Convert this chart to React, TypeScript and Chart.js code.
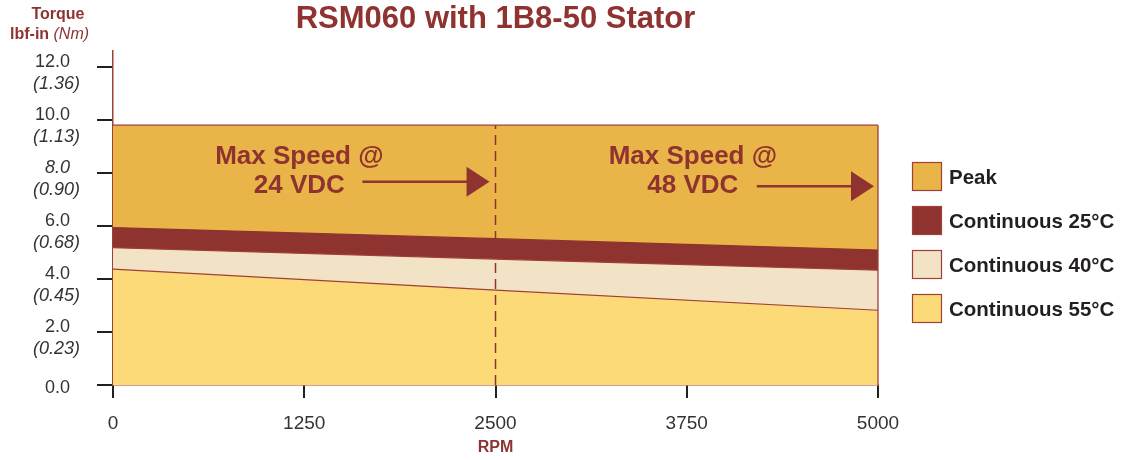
import React, { useEffect, useRef } from 'react';
import { Chart, registerables } from 'chart.js';

Chart.register(...registerables);

// ---- data ----
const rpm = [0, 2500, 5000];
const peak = [9.8, 9.8, 9.8];
const cont25 = [5.94, 5.52, 5.09];
const cont40 = [5.18, 4.75, 4.33];
const cont55 = [4.37, 3.58, 2.82];
const seriesLabels = ['Peak', 'Continuous 25°C', 'Continuous 40°C', 'Continuous 55°C'];
const xTicks = [0, 1250, 2500, 3750, 5000];
const xTickLabels = ['0', '1250', '2500', '3750', '5000'];
const yTicks = [0, 2, 4, 6, 8, 10, 12];
const yTickLabels = ['0.0', '2.0', '4.0', '6.0', '8.0', '10.0', '12.0'];
const yTickNm = ['', '(0.23)', '(0.45)', '(0.68)', '(0.90)', '(1.13)', '(1.36)'];
const dividerRpm = 2500;
const noteLines24 = ['Max Speed @', '24 VDC'];
const noteLines48 = ['Max Speed @', '48 VDC'];

const RED = '#8E3330';
const EDGE = '#A03F38';
const colors = ['#E9B548', '#8E3330', '#F2E3C6', '#FDDA78'];
const FONT = '"Liberation Sans", Arial, Helvetica, sans-serif';

const pts = (vals: number[]) => rpm.map((r, i) => ({ x: r, y: vals[i] }));

// annotations in data units
const notes = [
  { lines: noteLines24, x: 1218, y1: 8.34, y2: 7.23, from: 1630, to: 2461, ay: 7.67 },
  { lines: noteLines48, x: 3790, y1: 8.34, y2: 7.23, from: 4208, to: 4974, ay: 7.5 },
];

const decor = {
  id: 'decor',
  afterDatasetsDraw(chart: any) {
    const { ctx, scales } = chart;
    const x = scales.x, y = scales.y;
    ctx.save();
    // right edge of the region
    ctx.strokeStyle = EDGE;
    ctx.lineWidth = 1.3;
    const xr = x.getPixelForValue(rpm[rpm.length - 1]);
    ctx.beginPath();
    ctx.moveTo(xr, y.getPixelForValue(peak[peak.length - 1]));
    ctx.lineTo(xr, y.getPixelForValue(0));
    ctx.stroke();

    // annotations
    ctx.fillStyle = RED;
    ctx.strokeStyle = RED;
    ctx.font = `bold 26px ${FONT}`;
    ctx.textAlign = 'center';
    ctx.textBaseline = 'alphabetic';
    for (const n of notes) {
      const cx = x.getPixelForValue(n.x);
      ctx.fillText(n.lines[0], cx, y.getPixelForValue(n.y1));
      ctx.fillText(n.lines[1], cx, y.getPixelForValue(n.y2));
      const ay = y.getPixelForValue(n.ay);
      const x0 = x.getPixelForValue(n.from);
      const x1 = x.getPixelForValue(n.to);
      ctx.lineWidth = 2.6;
      ctx.beginPath();
      ctx.moveTo(x0, ay);
      ctx.lineTo(x1 - 18, ay);
      ctx.stroke();
      ctx.beginPath();
      ctx.moveTo(x1, ay);
      ctx.lineTo(x1 - 23, ay - 15);
      ctx.lineTo(x1 - 23, ay + 15);
      ctx.closePath();
      ctx.fill();
    }
    ctx.restore();
  },
  afterDraw(chart: any) {
    const { ctx, chartArea, scales } = chart;
    const x = scales.x, y = scales.y;
    ctx.save();
    // title
    ctx.fillStyle = RED;
    ctx.textAlign = 'center';
    ctx.textBaseline = 'alphabetic';
    ctx.font = `bold 31px ${FONT}`;
    ctx.fillText('RSM060 with 1B8-50 Stator', (chartArea.left + chartArea.right) / 2, 28);

    // y axis header
    ctx.font = `bold 16px ${FONT}`;
    ctx.fillText('Torque', 58, 18.5);
    ctx.textAlign = 'left';
    ctx.fillText('lbf-in', 10, 39);
    const w = ctx.measureText('lbf-in ').width;
    ctx.font = `italic 16px ${FONT}`;
    ctx.fillText('(Nm)', 10 + w, 39);

    // y tick labels
    ctx.fillStyle = '#333';
    ctx.textAlign = 'right';
    yTicks.forEach((v, i) => {
      const py = y.getPixelForValue(v);
      const italic = yTickLabels[i] === '8.0';
      ctx.font = `${italic ? 'italic ' : ''}18px ${FONT}`;
      if (yTickNm[i]) {
        ctx.fillText(yTickLabels[i], chartArea.left - 43, py);
        ctx.font = `italic 18px ${FONT}`;
        ctx.fillText(yTickNm[i], chartArea.left - 33, py + 22);
      } else {
        ctx.fillText(yTickLabels[i], chartArea.left - 43, py + 8);
      }
    });

    // x tick labels
    ctx.textAlign = 'center';
    ctx.font = `19px ${FONT}`;
    xTicks.forEach((v, i) => {
      ctx.fillText(xTickLabels[i], x.getPixelForValue(v), chartArea.bottom + 44);
    });
    ctx.fillStyle = RED;
    ctx.font = `bold 16px ${FONT}`;
    ctx.fillText('RPM', x.getPixelForValue(dividerRpm), chartArea.bottom + 67);

    // legend
    const lx = chartArea.right + 34;
    const ly0 = 176.5;
    seriesLabels.forEach((lab, i) => {
      const cy = ly0 + i * 44;
      ctx.fillStyle = colors[i];
      ctx.fillRect(lx, cy - 14.5, 30, 29);
      ctx.strokeStyle = EDGE;
      ctx.lineWidth = 1.2;
      ctx.strokeRect(lx + 0.5, cy - 14, 29, 28);
      ctx.fillStyle = '#231F20';
      ctx.textAlign = 'left';
      ctx.font = `bold 20.5px ${FONT}`;
      ctx.fillText(lab, lx + 37, cy + 7.5);
    });
    ctx.restore();
  },
};

export default function App() {
  const ref = useRef<HTMLCanvasElement | null>(null);
  useEffect(() => {
    if (!ref.current) return;
    const series = [peak, cont25, cont40, cont55];
    const datasets: any[] = series.map((vals, i) => ({
      label: seriesLabels[i],
      data: pts(vals),
      backgroundColor: colors[i],
      borderColor: i === 1 ? colors[1] : EDGE,
      borderWidth: 1.2,
      fill: 'origin',
      pointRadius: 0,
      tension: 0,
      order: series.length - i,
    }));
    datasets.push({
      label: 'divider',
      data: [
        { x: dividerRpm, y: 0 },
        { x: dividerRpm, y: peak[1] },
      ],
      borderColor: RED,
      borderWidth: 1.5,
      borderDash: [10, 6],
      fill: false,
      pointRadius: 0,
      order: 0,
    });
    const chart = new Chart(ref.current, {
      type: 'line',
      data: { datasets },
      options: {
        responsive: false,
        animation: false,
        devicePixelRatio: 1,
        layout: { padding: { left: 0, right: 247, top: 51, bottom: 0 } },
        plugins: { legend: { display: false }, tooltip: { enabled: false }, title: { display: false } },
        scales: {
          x: {
            type: 'linear',
            min: 0,
            max: 5000,
            afterBuildTicks: (s: any) => {
              s.ticks = xTicks.map((v) => ({ value: v }));
            },
            afterFit: (s: any) => {
              s.height = 75;
            },
            ticks: { display: false },
            grid: { drawOnChartArea: false, drawTicks: true, tickLength: 13, color: '#231F20', lineWidth: 2 },
            border: { color: EDGE, width: 1.5 },
          },
          y: {
            type: 'linear',
            min: 0,
            max: 12.6,
            afterBuildTicks: (s: any) => {
              s.ticks = yTicks.map((v) => ({ value: v }));
            },
            afterFit: (s: any) => {
              s.width = 113;
            },
            ticks: { display: false },
            grid: { drawOnChartArea: false, drawTicks: true, tickLength: 16, color: '#231F20', lineWidth: 2 },
            border: { color: EDGE, width: 1.5 },
          },
        },
      },
      plugins: [decor],
    });
    return () => chart.destroy();
  }, []);
  return (
    <div style={{ position: 'fixed', left: 0, top: 0, width: 1125, height: 460, background: '#fff' }}>
      <canvas ref={ref} width={1125} height={460} style={{ display: 'block' }} />
    </div>
  );
}
